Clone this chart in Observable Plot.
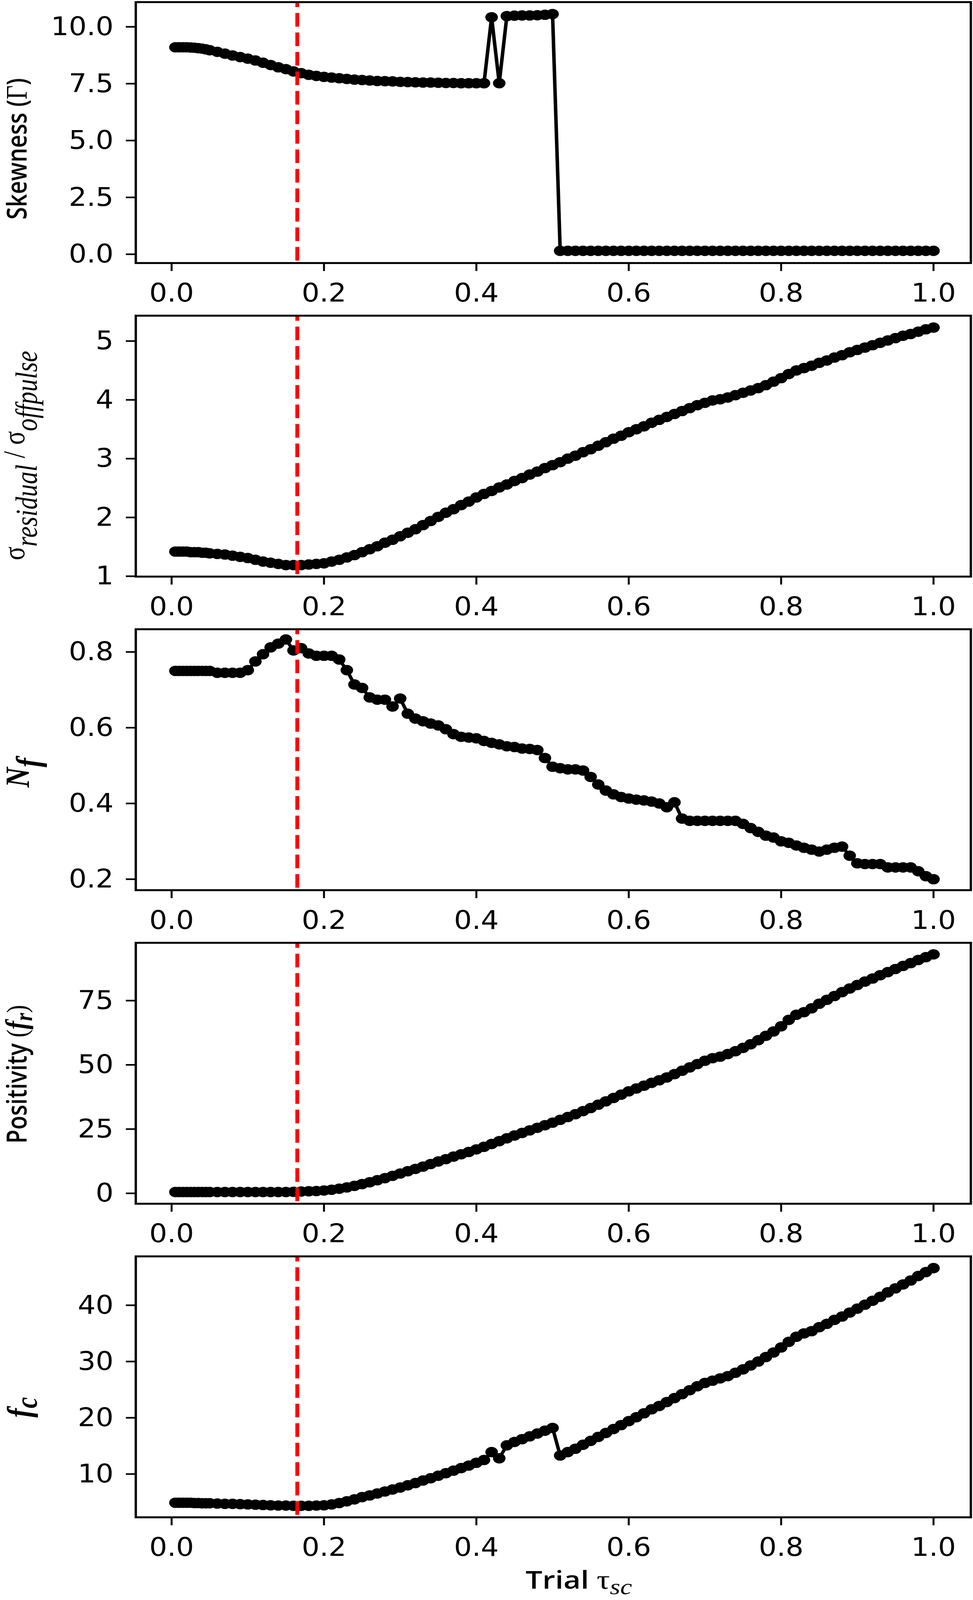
<!DOCTYPE html>
<html>
<head>
<meta charset="utf-8">
<script src="https://cdn.jsdelivr.net/npm/d3@7"></script>
<script src="https://cdn.jsdelivr.net/npm/@observablehq/plot@0.6"></script>
<style>
html, body { margin: 0; padding: 0; background: #fff; overflow: hidden; width: 2490px; height: 4924px; }
#chart { width: 2490px; height: 4924px; transform-origin: 0 0; }
#chart svg { display: block; }
</style>
</head>
<body>
<div id="chart"></div>
<script>
// Trial tau_sc values (x)
const tau = [0.005,0.01,0.015,0.02,0.025,0.03,0.035,0.04,0.045,
  0.05,0.06,0.07,0.08,0.09,0.10,0.11,0.12,0.13,0.14,
  0.15,0.16,0.17,0.18,0.19,0.20,0.21,0.22,0.23,0.24,
  0.25,0.26,0.27,0.28,0.29,0.30,0.31,0.32,0.33,0.34,
  0.35,0.36,0.37,0.38,0.39,0.40,0.41,0.42,0.43,0.44,
  0.45,0.46,0.47,0.48,0.49,0.50,0.51,0.52,0.53,0.54,
  0.55,0.56,0.57,0.58,0.59,0.60,0.61,0.62,0.63,0.64,
  0.65,0.66,0.67,0.68,0.69,0.70,0.71,0.72,0.73,0.74,
  0.75,0.76,0.77,0.78,0.79,0.80,0.81,0.82,0.83,0.84,
  0.85,0.86,0.87,0.88,0.89,0.90,0.91,0.92,0.93,0.94,
  0.95,0.96,0.97,0.98,0.99,1.00];

const skewness = [9.10,9.10,9.10,9.10,9.09,9.08,9.06,9.04,9.01,
  8.97,8.90,8.82,8.74,8.67,8.60,8.52,8.42,8.32,8.22,
  8.14,8.04,7.96,7.89,7.84,7.80,7.77,7.74,7.71,7.68,
  7.66,7.64,7.62,7.61,7.60,7.58,7.57,7.56,7.55,7.55,
  7.54,7.53,7.53,7.52,7.52,7.52,7.52,10.42,7.52,10.47,
  10.49,10.50,10.50,10.51,10.53,10.56,0.15,0.15,0.15,0.15,
  0.15,0.15,0.15,0.15,0.15,0.15,0.15,0.15,0.15,0.15,
  0.15,0.15,0.15,0.15,0.15,0.15,0.15,0.15,0.15,0.15,
  0.15,0.15,0.15,0.15,0.15,0.15,0.15,0.15,0.15,0.15,
  0.15,0.15,0.15,0.15,0.15,0.15,0.15,0.15,0.15,0.15,
  0.15,0.15,0.15,0.15,0.15,0.15];

const sigmaRatio = [1.42,1.42,1.42,1.42,1.41,1.41,1.41,1.40,1.40,
  1.39,1.38,1.37,1.35,1.33,1.31,1.28,1.25,1.23,1.21,
  1.19,1.19,1.19,1.20,1.21,1.22,1.25,1.28,1.32,1.36,
  1.41,1.46,1.51,1.57,1.62,1.68,1.74,1.80,1.87,1.94,
  2.01,2.08,2.14,2.21,2.27,2.34,2.40,2.45,2.51,2.56,
  2.62,2.67,2.73,2.78,2.84,2.89,2.94,3.00,3.05,3.11,
  3.16,3.22,3.28,3.34,3.39,3.45,3.50,3.55,3.61,3.66,
  3.71,3.76,3.81,3.86,3.91,3.95,3.99,4.01,4.04,4.08,
  4.12,4.16,4.20,4.25,4.31,4.37,4.44,4.50,4.54,4.58,
  4.63,4.67,4.72,4.76,4.81,4.85,4.89,4.93,4.97,5.01,
  5.05,5.09,5.12,5.16,5.20,5.23];

const nf = [0.75,0.75,0.75,0.75,0.75,0.75,0.75,0.75,0.75,
  0.75,0.745,0.745,0.745,0.745,0.752,0.775,0.794,0.812,0.822,
  0.833,0.804,0.81,0.796,0.79,0.79,0.79,0.78,0.752,0.714,
  0.705,0.68,0.674,0.674,0.656,0.677,0.637,0.624,0.617,0.611,
  0.606,0.596,0.583,0.576,0.574,0.572,0.565,0.56,0.556,0.551,
  0.549,0.545,0.544,0.541,0.52,0.497,0.493,0.49,0.49,0.487,
  0.47,0.45,0.434,0.424,0.417,0.413,0.41,0.408,0.405,0.40,
  0.39,0.403,0.36,0.354,0.354,0.354,0.354,0.354,0.354,0.354,
  0.346,0.335,0.325,0.315,0.31,0.30,0.296,0.289,0.283,0.278,
  0.273,0.278,0.283,0.286,0.262,0.242,0.24,0.24,0.24,0.231,
  0.231,0.231,0.231,0.221,0.208,0.20];

const positivity = [0.5,0.5,0.5,0.5,0.5,0.5,0.5,0.5,0.5,
  0.5,0.5,0.5,0.5,0.5,0.5,0.5,0.5,0.5,0.5,
  0.5,0.6,0.7,0.8,0.9,1.1,1.4,1.8,2.3,2.9,
  3.6,4.3,5.1,5.9,6.8,7.7,8.6,9.5,10.4,11.4,
  12.4,13.3,14.3,15.2,16.1,17.1,18.1,19.2,20.3,21.4,
  22.5,23.5,24.5,25.5,26.5,27.5,28.6,29.7,30.8,32.0,
  33.2,34.5,35.8,37.1,38.4,39.7,40.8,41.9,43.0,44.0,
  45.1,46.4,47.7,49.0,50.3,51.6,52.6,53.2,54.2,55.3,
  56.6,58.0,59.6,61.3,63.0,65.0,67.5,69.5,70.5,72.0,
  73.8,75.3,76.8,78.3,79.7,81.1,82.4,83.6,84.9,86.1,
  87.3,88.5,89.6,90.8,91.9,93.0];

const fc = [4.9,4.9,4.9,4.9,4.9,4.85,4.85,4.8,4.8,
  4.8,4.75,4.7,4.7,4.65,4.6,4.55,4.5,4.45,4.4,
  4.4,4.35,4.35,4.35,4.4,4.45,4.6,4.85,5.15,5.5,
  5.9,6.2,6.55,6.9,7.25,7.6,8.0,8.4,8.85,9.25,
  9.7,10.15,10.6,11.05,11.5,12.0,12.5,13.9,12.8,15.1,
  15.7,16.2,16.7,17.2,17.7,18.2,13.3,13.9,14.5,15.2,
  15.9,16.6,17.3,18.0,18.7,19.4,20.1,20.8,21.5,22.1,
  22.8,23.5,24.2,24.9,25.6,26.2,26.6,27.0,27.4,28.0,
  28.6,29.3,30.0,30.8,31.6,32.5,33.5,34.4,35.0,35.4,
  36.1,36.7,37.4,38.0,38.7,39.4,40.1,40.8,41.5,42.3,
  43.0,43.7,44.4,45.2,45.9,46.6];

const xTicks = [0, 0.2, 0.4, 0.6, 0.8, 1.0];
const skewTicks = [0, 2.5, 5, 7.5, 10];
const sigmaTicks = [1, 2, 3, 4, 5];
const nfTicks = [0.2, 0.4, 0.6, 0.8];
const posTicks = [0, 25, 50, 75];
const fcTicks = [10, 20, 30, 40];
const tauBest = [0.165];

const SANS = "'Open Sans', 'Noto Sans', sans-serif";
const SERIF = "'Liberation Serif', 'DejaVu Serif', serif";

const panels = [
  {values: skewness, domain: [-0.386, 11.086], ticks: skewTicks, fmt: ".1f", height: 930, top: 6, bottom: 121,
   label: {x: 68, y: 458, parts: [
     {text: "Skewness (", family: SANS, size: 70, weight: 600},
     {text: "\u0393", family: SERIF, size: 76},
     {text: ")", family: SANS, size: 70, weight: 600}]}},
  {values: sigmaRatio, domain: [0.994, 5.432], ticks: sigmaTicks, fmt: "d", height: 965, top: 41, bottom: 121,
   label: {x: 62, y: 472, parts: [
     {text: "\u03c3", family: SERIF, size: 78},
     {text: "residual", family: SERIF, size: 78, style: "italic", dy: 32},
     {text: " / ", family: SERIF, size: 78, dy: -32},
     {text: "\u03c3", family: SERIF, size: 78},
     {text: "offpulse", family: SERIF, size: 78, style: "italic", dy: 32}]}},
  {values: nf, domain: [0.171, 0.860], ticks: nfTicks, fmt: ".1f", height: 965, top: 41, bottom: 121,
   label: {x: 74, y: 483, parts: [
     {text: "N", family: SERIF, size: 86, style: "italic", weight: "bold"},
     {text: "f", family: SERIF, size: 86, style: "italic", weight: "bold", dy: 27}]}},
  {values: positivity, domain: [-4.05, 97.5], ticks: posTicks, fmt: "d", height: 965, top: 41, bottom: 121,
   label: {x: 68, y: 446, parts: [
     {text: "Positivity ", family: SANS, size: 70, weight: 600},
     {text: "(", family: SERIF, size: 74},
     {text: "f", family: SERIF, size: 78, style: "italic", weight: "bold"},
     {text: "r", family: SERIF, size: 64, style: "italic", weight: "bold", dy: 14},
     {text: ")", family: SERIF, size: 74, dy: -14}]}},
  {values: fc, domain: [2.31, 48.69], ticks: fcTicks, fmt: "d", height: 1099, top: 41, bottom: 255,
   label: {x: 78, y: 506, parts: [
     {text: "f", family: SERIF, size: 86, style: "italic", weight: "bold"},
     {text: "c", family: SERIF, size: 78, style: "italic", weight: "bold", dy: 16}]}}
];

function addText(svg, {x, y, rotate, anchor, parts}) {
  const t = d3.select(svg).append("text")
    .attr("transform", `translate(${x},${y})` + (rotate ? ` rotate(${rotate})` : ""))
    .attr("text-anchor", anchor)
    .attr("fill", "black")
    .style("font-stretch", "normal")
    .style("white-space", "pre");
  for (const p of parts) {
    const s = t.append("tspan").text(p.text)
      .attr("font-family", p.family)
      .attr("font-size", p.size)
      .attr("font-weight", p.weight || "normal")
      .attr("font-style", p.style || "normal");
    if (p.dy) s.attr("dy", p.dy);
  }
}

const chart = document.getElementById("chart");
panels.forEach((p, idx) => {
  const data = tau.map((t, i) => ({t, v: p.values[i]}));
  const svg = Plot.plot({
    width: 2490,
    height: p.height,
    marginLeft: 347,
    marginRight: 6,
    marginTop: p.top,
    marginBottom: p.bottom,
    style: "font-family: 'DejaVu Sans', sans-serif; font-size: 80px; font-stretch: condensed; background: white; color: black; overflow: visible;",
    x: {domain: [-0.047, 1.049]},
    y: {domain: p.domain},
    marks: [
      Plot.axisX({ticks: xTicks, tickFormat: d3.format(".1f"), tickSize: 25, tickPadding: 37, strokeWidth: 5, label: null}),
      Plot.axisY({ticks: p.ticks, tickFormat: d3.format(p.fmt), tickSize: 25, tickPadding: 32, strokeWidth: 5, label: null}),
      Plot.line(data, {x: "t", y: "v", stroke: "black", strokeWidth: 9}),
      Plot.dot(data, {x: "t", y: "v", r: 16, fill: "black", stroke: "none"}),
      Plot.ruleX(tauBest, {stroke: "#ff0000", strokeWidth: 10, strokeDasharray: "42,18", strokeDashoffset: 26}),
      Plot.frame({stroke: "black", strokeWidth: 6})
    ]
  });
  addText(svg, {x: p.label.x, y: p.label.y, rotate: -90, anchor: "middle", parts: p.label.parts});
  if (idx === panels.length - 1) {
    addText(svg, {x: 1345, y: 1064, anchor: "start", parts: [
      {text: "Trial ", family: SANS, size: 76, weight: 600},
      {text: "\u03c4", family: SERIF, size: 84},
      {text: "sc", family: SERIF, size: 68, style: "italic", dy: 17}]});
  }
  chart.appendChild(svg);
});

// The visible window may be shorter than the 4924px layout: fit the full figure vertically.
const fit = Math.min(1, window.innerHeight / 4924);
if (fit < 1) chart.style.transform = `scale(1, ${fit})`;
</script>
</body>
</html>
